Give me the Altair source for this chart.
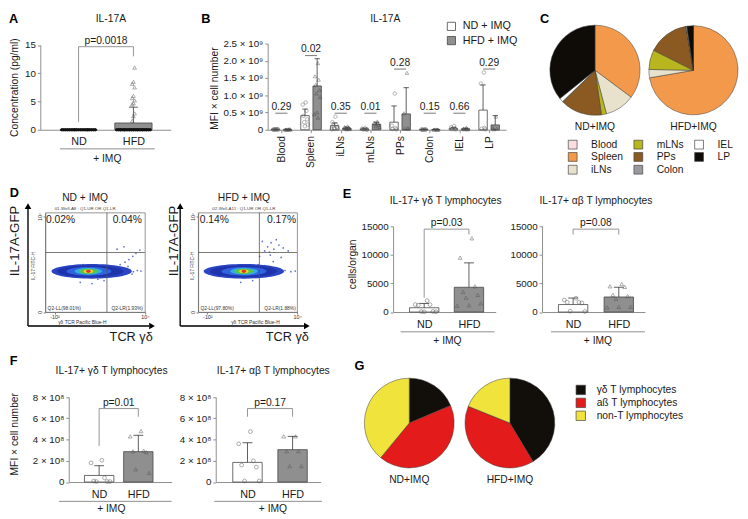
import json
import altair as alt
import pandas as pd

FONT = "Liberation Sans"
INK = "#1a1a1a"
AXC = "#8c8c8c"
ONE = pd.DataFrame({"k": [0]})
GROUPS = ["ND", "HFD"]

# ---------------- A : serum IL-17A ----------------
A_ND = [0, 0, 0, 0, 0, 0, 0, 0, 0, 0, 0, 0, 0, 0, 0, 0, 0, 0, 0, 0,
        0, 0, 0, 0, 0, 0, 0, 0, 0, 0, 0, 0, 0, 0, 0, 0, 0, 0, 0, 0]
A_HFD = [11.0, 8.5, 8.1, 7.5, 6.0, 5.6, 5.2, 4.7, 4.5, 2.9, 2.4, 1.6,
         0, 0, 0, 0, 0, 0, 0, 0, 0, 0, 0, 0, 0, 0, 0, 0, 0, 0, 0, 0, 0, 0, 0,
         0, 0, 0, 0, 0, 0, 0, 0, 0, 0, 0, 0, 0, 0, 0, 0, 0, 0, 0, 0, 0, 0]
A_MEAN = [0.0, 1.2]
A_UPPER = [0.0, 4.0]
A_BRACKET = [1.4, 13.0, 14.7]
A_TICKS = [0, 5, 10, 15]

# ---------------- B : MFI x cell number per organ (x 10^9) ----------------
ORGANS = ["Blood", "Spleen", "iLNs", "mLNs", "PPs", "Colon", "IEL", "LP"]
B_LEG = ["ND + IMQ", "HFD + IMQ"]
B_ND_MEAN = [0.01, 0.41, 0.12, 0.02, 0.22, 0.01, 0.04, 0.57]
B_ND_UPPER = [0.02, 0.60, 0.20, 0.03, 0.69, 0.02, 0.07, 1.30]
B_HFD_MEAN = [0.01, 1.27, 0.05, 0.16, 0.46, 0.01, 0.03, 0.14]
B_HFD_UPPER = [0.02, 2.06, 0.08, 0.22, 1.22, 0.02, 0.05, 0.41]
B_BRACKET = [0.48, 2.15, 0.48, 0.48, 1.76, 0.48, 0.48, 1.76]
B_P = ["0.29", "0.02", "0.35", "0.01", "0.28", "0.15", "0.66", "0.29"]
B_ND_PTS = {
    "Blood": [0.01, 0.005, 0.01, 0.0, 0.02, 0.01, 0.0, 0.01],
    "Spleen": [0.79, 0.73, 0.55, 0.40, 0.30, 0.22, 0.15, 0.10],
    "iLNs": [0.38, 0.22, 0.15, 0.12, 0.08, 0.05, 0.03, 0.02, 0.01],
    "mLNs": [0.04, 0.03, 0.02, 0.02, 0.01, 0.01, 0.0],
    "PPs": [1.05, 0.12, 0.05, 0.02, 0.01],
    "Colon": [0.01, 0.01, 0.0, 0.0, 0.01, 0.0],
    "IEL": [0.11, 0.07, 0.04, 0.02, 0.01],
    "LP": [1.66, 1.34, 0.05, 0.03, 0.01],
}
B_HFD_PTS = {
    "Blood": [0.01, 0.005, 0.01, 0.0, 0.02, 0.01, 0.0],
    "Spleen": [1.93, 1.55, 1.45, 1.30, 1.15, 1.05, 0.95, 0.50, 0.45, 0.35],
    "iLNs": [0.10, 0.08, 0.06, 0.05, 0.04, 0.03, 0.02, 0.01],
    "mLNs": [0.24, 0.21, 0.19, 0.17, 0.13, 0.10, 0.08],
    "PPs": [1.65, 0.48, 0.05, 0.03, 0.02],
    "Colon": [0.01, 0.0, 0.0, 0.01, 0.0],
    "IEL": [0.06, 0.03, 0.02, 0.01, 0.01],
    "LP": [0.38, 0.05, 0.03, 0.01],
}

# ---------------- C : organ share pies ----------------
C_ND = [0.0, 35.2, 10.7, 1.8, 14.9, 0.2, 1.4, 35.8]
C_HFD = [0.0, 72.3, 3.0, 7.1, 14.9, 0.0, 0.3, 2.4]
ORG_COLOR = {"Blood": "#f9dde1", "Spleen": "#f2994b", "iLNs": "#e8e1cc", "mLNs": "#b9b51f",
             "PPs": "#8a5a22", "Colon": "#9a9a9e", "IEL": "#ffffff", "LP": "#0f0c08"}

# ---------------- D : flow cytometry ----------------
FLOW_LV = [1, 2, 3, 4, 5, 6, 7]
D_ND_BLOB_X = [390, 354, 318, 305, 305, 305, 305]
D_ND_BLOB_Y = [953, 953, 960, 953, 953, 953, 953]
D_HFD_BLOB_X = [381, 370, 381, 381, 381, 381, 381]
D_HFD_BLOB_Y = [953, 953, 960, 953, 953, 953, 953]
D_ND_DOTS_X = [1400, 1800, 2200, 2600, 3000, 3500, 4200, 5200, 6500, 8000, 1600, 2400, 3200, 4000,
               5000, 6000, 7500, 2000, 3000, 150, 400, 600, 900, 1100, -60, -90, -30, 200, 500, 800,
               1200, 1500, 2800, 3800, 4800, 700, 300, -20, 100, 2300]
D_ND_DOTS_Y = [700, 1200, 800, 1500, 1000, 700, 1300, 900, 1100, 1000, 2000, 3000, 4500, 7000,
               12000, 20000, 35000, 40000, 60000, 150, 120, 250, 200, 400, 900, 1000, 700, 3000, 2500, 1800,
               1600, 500, 600, 2200, 600, 1700, 2200, 1300, 500, 1900]
D_HFD_DOTS_X = [1500, 1800, 2200, 2600, 3000, 3500, 1300, 4500, 2000, 6000, 2000, 2800, 3600, 5000,
                7000, 9000, 1500, 2500, 4000, -80, -100, -50, 300, 700, 1000, 200,
                1200, 1700, 2400, 3200, 900, 600, -20, 100, 1100, 2100]
D_HFD_DOTS_Y = [30000, 60000, 120000, 40000, 200000, 80000, 150000, 50000, 25000, 30000, 900, 1300,
                800, 1100, 900, 1000, 2500, 5000, 10000, 900, 1000, 800, 150, 200, 3000, 2000,
                1500, 500, 1800, 700, 2000, 1700, 1300, 500, 12000, 15000]
GATE_X = 1080
GATE_Y = 23000

# ---------------- E : cells / organ ----------------
E_GD_ND = [2000, 1300, 1300, 1200, 100, 80, 50, 30]
E_GD_HFD = [12900, 9500, 4500, 3500, 3000, 2500, 1500, 1200, 1100]
E_GD_MEAN = [750, 4330]
E_GD_UPPER = [1500, 8600]
E_GD_BRACKET = [2500, 13550, 14500]
E_AB_ND = [2400, 2100, 1700, 1700, 1600, 150, 100]
E_AB_HFD = [4900, 4500, 4400, 3000, 2800, 2300, 900, 900, 800]
E_AB_MEAN = [1310, 2630]
E_AB_UPPER = [2450, 4330]
E_AB_BRACKET = [13550, 13550, 14500]
E_TICKS = [0, 5000, 10000, 15000]

# ---------------- F : MFI x cell number (x 10^8) ----------------
F_GD_ND = [2.05, 1.8, 0.4, 0.1, 0.05, 0.05, 0.05]
F_GD_HFD = [4.8, 4.3, 2.95, 2.9, 2.8, 1.2, 0.85]
F_GD_MEAN = [0.62, 2.86]
F_GD_UPPER = [1.54, 4.4]
F_GD_BRACKET = [3.4, 6.15, 6.92]
F_AB_ND = [4.75, 3.6, 2.0, 1.6, 1.4, 0.1, 0.1]
F_AB_HFD = [4.3, 4.3, 2.9, 2.9, 1.5, 1.5]
F_AB_MEAN = [1.85, 3.05]
F_AB_UPPER = [3.7, 4.3]
F_AB_BRACKET = [6.15, 6.15, 6.92]
F_TICKS = [0, 2, 4, 6, 8]

# ---------------- G : lymphocyte share pies ----------------
G_CATS = ["\u03b3\u03b4 T lymphocytes", "a\u00df T lymphocytes", "non-T lymphocytes"]
G_ND = [18.6, 42.4, 39.0]
G_HFD = [41.4, 39.7, 18.9]
G_COLORS = ["#120f0a", "#e31b1b", "#efe33c"]


# ================= helpers =================
def txt(s, x, y, size=10.5, align="center", baseline="middle", angle=None, bold=False, color=INK):
    kw = dict(text=s, fontSize=size, align=align, baseline=baseline, font=FONT, color=color)
    if angle is not None:
        kw["angle"] = angle
    if bold:
        kw["fontWeight"] = "bold"
    return alt.Chart(ONE).mark_text(**kw).encode(x=alt.value(x), y=alt.value(y))


def letter(s, x, y):
    return txt(s, x, y, size=13, align="left", baseline="top", bold=True, color="#000")


def hline(x1, x2, y, color=AXC, w=1.0):
    return alt.Chart(ONE).mark_rule(color=color, strokeWidth=w).encode(
        x=alt.value(x1), x2=alt.value(x2), y=alt.value(y))


def vline(x, y1, y2, color=AXC, w=1.0):
    return alt.Chart(ONE).mark_rule(color=color, strokeWidth=w).encode(
        x=alt.value(x), y=alt.value(y1), y2=alt.value(y2))


def head(shape, x, y, size=45):
    return alt.Chart(ONE).mark_point(shape=shape, filled=True, size=size, color="#000", opacity=1).encode(
        x=alt.value(x), y=alt.value(y))


def spacer(w):
    return alt.Chart(ONE).mark_point(opacity=0).encode(
        x=alt.X("k:Q", axis=None), y=alt.Y("k:Q", axis=None)).properties(width=w, height=1)


def dot_panel(nd, hfd, mean, upper, bracket, ptxt, axis_len, nd_px, hfd_px, height, ydom, yrange, yticks,
              bar_px=30, cap_px=10, yfmt=None, ylabel_expr=None, ytitle=None, ytitle_xy=(0, 0),
              spread_px=12, lab_pad=7, zero_black=False, extras=()):
    unit = hfd_px - nd_px
    lo = -nd_px / unit
    hi = (axis_len - nd_px) / unit
    hw = bar_px / 2 / unit
    cw = cap_px / 2 / unit
    sp = spread_px / unit
    XS = alt.Scale(domain=[lo, hi], nice=False, zero=False)
    YS = alt.Scale(domain=ydom, range=yrange, nice=False, zero=False)
    xax = alt.Axis(values=[0, 1], labelExpr="datum.value < 0.5 ? 'ND' : 'HFD'", ticks=False,
                   labelPadding=lab_pad, labelFontSize=11, title=None, labelAngle=0)
    ya = dict(values=yticks, tickSize=3, labelPadding=2, labelFontSize=10)
    if yfmt:
        ya["format"] = yfmt
    if ylabel_expr:
        ya["labelExpr"] = ylabel_expr
    if ytitle:
        ya.update(title=ytitle, titleX=ytitle_xy[0], titleY=ytitle_xy[1], titleAngle=270,
                  titleAlign="center", titleBaseline="middle", titleFontSize=10.5)
    else:
        ya["title"] = None
    yax = alt.Axis(**ya)

    def X(f):
        return alt.X(f, type="quantitative", scale=XS, axis=xax)

    def Y(f):
        return alt.Y(f, type="quantitative", scale=YS, axis=yax)

    gi = "datum.g == 'ND' ? 0 : 1"
    bdf = pd.DataFrame({"g": GROUPS, "m": mean, "u": upper})
    bb = (alt.Chart(bdf).transform_calculate(gi=gi)
          .transform_calculate(xl=f"datum.gi - {hw}", xr=f"datum.gi + {hw}",
                               cl=f"datum.gi - {cw}", cr=f"datum.gi + {cw}", z="0"))
    bars = bb.mark_rect(stroke="#454545", strokeWidth=0.8).encode(
        x=X("xl"), x2=alt.X2("xr"), y=Y("m"), y2=alt.Y2("z"),
        fill=alt.condition("datum.g == 'ND'", alt.value("white"), alt.value("#8f8f8f")))
    err = bb.mark_rule(color="#333", strokeWidth=0.8).encode(x=X("gi"), y=Y("m"), y2=alt.Y2("u"))
    capm = bb.mark_rule(color="#333", strokeWidth=0.8).encode(x=X("cl"), x2=alt.X2("cr"), y=Y("u"))

    pdf = pd.DataFrame({"g": ["ND"] * len(nd) + ["HFD"] * len(hfd), "v": list(nd) + list(hfd)})
    pb = (alt.Chart(pdf).transform_calculate(gi=gi, zz="datum.v > 0 ? 0 : 1")
          .transform_window(r="row_number()", groupby=["g", "zz"]))
    layers = [bars, err, capm]
    if zero_black:
        zl = (pb.transform_filter("datum.v == 0")
              .transform_calculate(jx=f"datum.gi + ((datum.r * 7) % 19 - 9) / 9 * {sp}")
              .mark_circle(size=10, color="#111", opacity=1).encode(x=X("jx"), y=Y("v")))
        tl = (pb.transform_filter("datum.v > 0")
              .transform_calculate(jx=f"datum.gi + ((datum.r * 5) % 3 - 1) * {1.2 / unit}")
              .mark_point(shape="triangle-up", filled=False, size=14, strokeWidth=0.7, color="#555")
              .encode(x=X("jx"), y=Y("v")))
        layers += [zl, tl]
    else:
        pj = pb.transform_calculate(jx=f"datum.gi + ((datum.r * 5) % 9 - 4) / 4 * {sp}")
        ndl = pj.transform_filter("datum.g == 'ND'").mark_point(
            shape="circle", filled=False, size=15, strokeWidth=0.7, color="#555").encode(x=X("jx"), y=Y("v"))
        hfl = pj.transform_filter("datum.g == 'HFD'").mark_point(
            shape="triangle-up", filled=False, size=15, strokeWidth=0.7, color="#555").encode(x=X("jx"), y=Y("v"))
        layers += [ndl, hfl]

    bn, bh, top = bracket
    brdf = pd.DataFrame({"x": [0, 1, 0], "x2": [0, 1, 1], "y": [bn, bh, top], "y2": [top, top, top]})
    brk = alt.Chart(brdf).mark_rule(color="#7a7a7a", strokeWidth=0.8).encode(
        x=X("x"), x2=alt.X2("x2"), y=Y("y"), y2=alt.Y2("y2"))
    ptdf = pd.DataFrame({"x": [0.5], "y": [top], "t": [ptxt]})
    pt = alt.Chart(ptdf).mark_text(fontSize=10.5, baseline="alphabetic", dy=-3, font=FONT, color=INK).encode(
        x=X("x"), y=Y("y"), text="t:N")
    layers += [brk, pt]
    layers += list(extras)
    return alt.layer(*layers).properties(width=axis_len, height=height)


def panel_b():
    org_js = json.dumps(ORGANS)
    off, hw, cw, sp = 0.205, 0.142, 0.09, 0.1
    XS = alt.Scale(domain=[-0.462, 7.571], nice=False, zero=False)
    YS = alt.Scale(domain=[0, 2.5], range=[88, 0], nice=False, zero=False)
    xax = alt.Axis(values=list(range(8)), labelExpr=f"{org_js}[datum.value]", labelAngle=270,
                   labelAlign="right", labelBaseline="middle", tickSize=3, labelPadding=3,
                   labelFontSize=10.5, title=None)
    yax = alt.Axis(values=[0, 0.5, 1, 1.5, 2, 2.5],
                   labelExpr="datum.value == 0 ? '0' : format(datum.value, '.1f') + ' \u00d7 10\u2079'",
                   tickSize=3, labelPadding=2, labelFontSize=10, title="MFI \u00d7 cell number",
                   titleX=-54.7, titleY=45.5, titleAngle=270, titleAlign="center",
                   titleBaseline="middle", titleFontSize=10.5)

    def X(f):
        return alt.X(f, type="quantitative", scale=XS, axis=xax)

    def Y(f):
        return alt.Y(f, type="quantitative", scale=YS, axis=yax)

    oi = f"indexof({org_js}, datum.organ)"
    sd = f"datum.g == '{B_LEG[0]}' ? -{off} : {off}"
    bdf = pd.DataFrame({"organ": ORGANS * 2, "g": [B_LEG[0]] * 8 + [B_LEG[1]] * 8,
                        "m": B_ND_MEAN + B_HFD_MEAN, "u": B_ND_UPPER + B_HFD_UPPER})
    bb = (alt.Chart(bdf).transform_calculate(oi=oi, sd=sd)
          .transform_calculate(gx="datum.oi + datum.sd")
          .transform_calculate(xl=f"datum.gx - {hw}", xr=f"datum.gx + {hw}",
                               cl=f"datum.gx - {cw}", cr=f"datum.gx + {cw}", z="0"))
    bars = bb.mark_rect(stroke="#454545", strokeWidth=0.8).encode(
        x=X("xl"), x2=alt.X2("xr"), y=Y("m"), y2=alt.Y2("z"),
        fill=alt.Fill("g:N", scale=alt.Scale(domain=B_LEG, range=["white", "#8f8f8f"]),
                      legend=alt.Legend(title=None, orient="none", legendX=182, legendY=-23,
                                        symbolType="square", symbolSize=70, symbolStrokeColor="#454545",
                                        symbolStrokeWidth=0.8, labelFontSize=11, labelOffset=6,
                                        rowPadding=1.5, padding=0, labelColor=INK, labelFont=FONT)))
    err = bb.mark_rule(color="#333", strokeWidth=0.8).encode(x=X("gx"), y=Y("m"), y2=alt.Y2("u"))
    capm = bb.mark_rule(color="#333", strokeWidth=0.8).encode(x=X("cl"), x2=alt.X2("cr"), y=Y("u"))

    rows_o, rows_g, rows_v = [], [], []
    for g, d in ((B_LEG[0], B_ND_PTS), (B_LEG[1], B_HFD_PTS)):
        for o in ORGANS:
            for v in d[o]:
                rows_o.append(o)
                rows_g.append(g)
                rows_v.append(v)
    pdf = pd.DataFrame({"organ": rows_o, "g": rows_g, "v": rows_v})
    pb = (alt.Chart(pdf).transform_calculate(oi=oi, sd=sd)
          .transform_calculate(gx="datum.oi + datum.sd")
          .transform_window(r="row_number()", groupby=["organ", "g"])
          .transform_calculate(jx=f"datum.gx + ((datum.r * 5) % 9 - 4) / 4 * {sp}"))
    ndl = pb.transform_filter(f"datum.g == '{B_LEG[0]}'").mark_point(
        shape="circle", filled=False, size=13, strokeWidth=0.6, color="#555").encode(x=X("jx"), y=Y("v"))
    hfl = pb.transform_filter(f"datum.g == '{B_LEG[1]}'").mark_point(
        shape="triangle-up", filled=False, size=13, strokeWidth=0.6, color="#444").encode(x=X("jx"), y=Y("v"))

    brdf = pd.DataFrame({"organ": ORGANS, "y": B_BRACKET, "p": B_P})
    brb = alt.Chart(brdf).transform_calculate(oi=oi).transform_calculate(
        xl=f"datum.oi - {off}", xr=f"datum.oi + {off}")
    brk = brb.mark_rule(color="#555", strokeWidth=0.8).encode(x=X("xl"), x2=alt.X2("xr"), y=Y("y"))
    pt = brb.mark_text(fontSize=10.5, baseline="alphabetic", dy=-3.5, font=FONT, color=INK).encode(
        x=X("oi"), y=Y("y"), text="p:N")
    return alt.layer(bars, err, capm, ndl, hfl, brk, pt,
                     letter("B", -67.7, -30.5), txt("IL-17A", 120, -24.5)).properties(width=243.3, height=88)


def pie(cats, values, cx, cy, r, fill):
    df = pd.DataFrame({"cat": cats, "share": values})
    return (alt.Chart(df).transform_calculate(k=f"indexof({json.dumps(cats)}, datum.cat)")
            .mark_arc(radius=r, stroke="#3a3a3a", strokeWidth=0.5)
            .encode(theta=alt.Theta("share:Q", stack="normalize"), order=alt.Order("k:Q"),
                    fill=fill, x=alt.value(cx), y=alt.value(cy)))


def panel_c():
    # legend grid fills column by column, so the natural organ order gives the reference layout
    fill = alt.Fill("cat:N", scale=alt.Scale(domain=ORGANS, range=[ORG_COLOR[c] for c in ORGANS]),
                    legend=alt.Legend(title=None, orient="none", legendX=62, legendY=97.5, columns=3,
                                      symbolType="square", symbolSize=81, symbolStrokeColor="#454545",
                                      symbolStrokeWidth=0.7, labelFontSize=10.5, labelOffset=13.5,
                                      columnPadding=9, rowPadding=0, padding=0, labelColor=INK,
                                      labelFont=FONT))
    return alt.layer(pie(ORGANS, C_ND, 90, 27.3, 46, fill), pie(ORGANS, C_HFD, 190.5, 27.3, 45.5, fill),
                     txt("ND+IMQ", 90, 85.5), txt("HFD+IMQ", 190.5, 85.5),
                     letter("C", 34, -30.5)).properties(width=225, height=88)


# row 3 panels start at y = 383.5 (reference pixels)
def panel_g():
    fill = alt.Fill("cat:N", scale=alt.Scale(domain=G_CATS, range=G_COLORS),
                    legend=alt.Legend(title=None, orient="none", legendX=260, legendY=3,
                                      symbolType="square", symbolSize=92, symbolStrokeColor="#454545",
                                      symbolStrokeWidth=0.7, labelFontSize=10.5, labelOffset=10.7,
                                      rowPadding=0.2, padding=0, labelColor=INK, labelFont=FONT))
    return alt.layer(pie(G_CATS, G_ND, 90.5, 42.3, 45.8, fill), pie(G_CATS, G_HFD, 193.2, 42.3, 45.8, fill),
                     txt("ND+IMQ", 90.5, 100.5), txt("HFD+IMQ", 193.2, 100.5),
                     letter("G", 34.7, -21.8)).properties(width=400, height=102.5)


FLOW_W = [82, 68, 46, 28, 19, 10, 5]
FLOW_H = [15, 12, 9, 6.8, 5.4, 4, 3.2]
FLOW_COLORS = ["#2a44c4", "#1f33aa", "#2f63df", "#33b0dc", "#5bc448", "#e8dc2a", "#e2362a"]


def ellipse(r):
    return f"M-1,0A1,{r:.3f},0,1,0,1,0A1,{r:.3f},0,1,0,-1,0Z"


def flow_panel(w, bx, by, dx, dy, title, header, ul, ur, ll, lr, ul_x, ur_x, pos):
    XS = alt.Scale(type="symlog", constant=117, domain=[-250, 10000], nice=False, zero=False)
    YS = alt.Scale(type="symlog", constant=1, domain=[0, 1.94e7], nice=False, zero=False)
    xax = alt.Axis(values=[-100, 0, 1000, 10000],
                   labelExpr="datum.value == 0 ? '0' : datum.value < 0 ? '-10\u00b2' : datum.value < 5000 ? '10\u00b3' : '10\u2074'",
                   labelFontSize=5.5, tickSize=2, labelPadding=1, labelColor="#333", domainColor="#777",
                   tickColor="#777", title="\u03b3\u03b4 TCR Pacific Blue-H", titleFontSize=5,
                   titleX=pos["xtx"], titleY=9.8, titleAlign="center", titleBaseline="middle",
                   titleColor="#333")
    yax = alt.Axis(values=[0, 10, 100, 1000, 10000, 100000, 1000000, 10000000],
                   labelExpr="datum.value == 0 ? '0' : '10' + ['', '\u00b9', '\u00b2', '\u00b3', '\u2074', '\u2075', '\u2076', '\u2077'][round(log(datum.value) / LN10)]",
                   labelAngle=270, labelAlign="center", labelBaseline="bottom", labelFontSize=5.5,
                   tickSize=2, labelPadding=1, labelColor="#333", domainColor="#777", tickColor="#777",
                   title="IL-17 FITC-H", titleFontSize=5, titleX=pos["ytx"], titleY=54, titleAngle=270,
                   titleAlign="center", titleBaseline="middle", titleColor="#333")
    X = alt.X("x:Q", scale=XS, axis=xax)
    Y = alt.Y("y:Q", scale=YS, axis=yax)
    blob = alt.Chart(pd.DataFrame({"x": bx, "y": by, "lvl": FLOW_LV})).mark_point(
        filled=True, opacity=1, strokeWidth=0).encode(
        x=X, y=Y,
        size=alt.Size("lvl:N", scale=alt.Scale(type="ordinal", domain=FLOW_LV, range=[v * v for v in FLOW_W]), legend=None),
        shape=alt.Shape("lvl:N", scale=alt.Scale(domain=FLOW_LV, range=[ellipse(h / v) for h, v in zip(FLOW_H, FLOW_W)]), legend=None),
        fill=alt.Fill("lvl:N", scale=alt.Scale(domain=FLOW_LV, range=FLOW_COLORS), legend=None))
    dots = alt.Chart(pd.DataFrame({"x": dx, "y": dy})).mark_circle(size=3, color="#3b57c8", opacity=0.85).encode(x=X, y=Y)
    gx = alt.Chart(ONE).mark_rule(color="#555", strokeWidth=0.8).encode(x=alt.datum(GATE_X))
    gy = alt.Chart(ONE).mark_rule(color="#555", strokeWidth=0.8).encode(y=alt.datum(GATE_Y))
    ax_x = pos["ax"]
    layers = [dots, blob, gx, gy,
              txt(title, pos["tx"], -15, size=10.5),
              txt(header, pos["tx"], -3.5, size=4.5, color="#444"),
              txt(ul, ul_x, 8, size=10.5, align="left"),
              txt(ur, ur_x, 8, size=10.5, align="right"),
              txt(ll, 2.4, 97.3, size=5, align="left", color="#333"),
              txt(lr, 99.7, 97.3, size=5, align="right", color="#333"),
              vline(ax_x, 115.7, -5, color="#000", w=1.4),
              hline(ax_x, pos["arx"] - 3, 115.7, color="#000", w=1.4),
              head("triangle-up", ax_x, -6.5),
              head("triangle-right", pos["arx"], 115.7),
              txt("TCR \u03b3\u03b4", pos["tcr"], 127.5, size=13, align="right"),
              txt("IL-17A-GFP", pos["gfp"], 29, size=13.5, angle=270)]
    layers += pos.get("extra", [])
    return alt.layer(*layers).properties(width=w, height=101.5,
                                          view=alt.ViewBackground(stroke="#777", strokeWidth=0.8))


# ================= panels =================
pA = dot_panel(A_ND, A_HFD, A_MEAN, A_UPPER, A_BRACKET, "p=0.0018", 133, 39, 95, 88, [0, 15], [88, 1.5],
               A_TICKS, bar_px=38, cap_px=9, ytitle="Concentration (pg/ml)", ytitle_xy=(-26, 44.5),
               spread_px=17, lab_pad=6, zero_black=True,
               extras=[letter("A", -32, -30.5), txt("IL-17A", 72, -24.5),
                       hline(20, 116.7, 107.5), txt("+ IMQ", 68.3, 118.2)])
pB = panel_b()
pC = panel_c()

pDl = flow_panel(101.7, D_ND_BLOB_X, D_ND_BLOB_Y, D_ND_DOTS_X, D_ND_DOTS_Y, "ND + IMQ",
                 "01-Well-A8 : Q1-UR OR Q1-LR", "0.02%", "0.04%", "Q2-LL(98.01%)", "Q2-LR(1.93%)", 0.8, 98.5,
                 dict(xtx=37.4, ytx=-13, tx=40.7, ax=-17.6, arx=109, tcr=109.7, gfp=-30.3,
                      extra=[letter("D", -36.3, -26)]))
pDr = flow_panel(101, D_HFD_BLOB_X, D_HFD_BLOB_Y, D_HFD_DOTS_X, D_HFD_DOTS_Y, "HFD + IMQ",
                 "02-Well-A11 : Q1-UR OR Q1-LR", "0.14%", "0.17%", "Q2-LL(97.80%)", "Q2-LR(1.88%)", 1.7, 100,
                 dict(xtx=58, ytx=-7, tx=46.7, ax=-18.3, arx=111, tcr=113, gfp=-25))

pEl = dot_panel(E_GD_ND, E_GD_HFD, E_GD_MEAN, E_GD_UPPER, E_GD_BRACKET, "p=0.03", 104.7, 31.7, 77.4, 101.5,
                [0, 15000], [101.5, 14], E_TICKS, yfmt="d", ytitle="cells/organ", ytitle_xy=(-41.3, 52.3),
                extras=[letter("E", -51.3, -25.3), txt("IL-17+ \u03b3\u03b4 T lymphocytes", 53.7, -12),
                        hline(7.7, 103.4, 121.7), txt("+ IMQ", 55.5, 131.5)])
pEr = dot_panel(E_AB_ND, E_AB_HFD, E_AB_MEAN, E_AB_UPPER, E_AB_BRACKET, "p=0.08", 105, 31.7, 78.3, 101.5,
                [0, 15000], [101.5, 14], E_TICKS, yfmt="d",
                extras=[txt("IL-17+ \u03b1\u03b2 T lymphocytes", 55, -12),
                        hline(9, 105, 121.7), txt("+ IMQ", 57, 131.5)])

F_LBL = "datum.value == 0 ? '0' : datum.value + ' \u00d7 10\u2078'"
pFl = dot_panel(F_GD_ND, F_GD_HFD, F_GD_MEAN, F_GD_UPPER, F_GD_BRACKET, "p=0.01", 105, 31, 71, 102.5,
                [0, 8], [102.5, 15.8], F_TICKS, ylabel_expr=F_LBL, ytitle="MFI \u00d7 cell number",
                ytitle_xy=(-55, 53.2), spread_px=11,
                extras=[letter("F", -60.3, -26.5), txt("IL-17+ \u03b3\u03b4 T lymphocytes", 43.7, -10.5),
                        hline(-10, 105, 122.2), txt("+ IMQ", 43.4, 130.5)])
pFr = dot_panel(F_AB_ND, F_AB_HFD, F_AB_MEAN, F_AB_UPPER, F_AB_BRACKET, "p=0.17", 107, 32.4, 78.4, 102.5,
                [0, 8], [102.5, 15.8], F_TICKS, ylabel_expr=F_LBL,
                extras=[txt("IL-17+ \u03b1\u03b2 T lymphocytes", 58.7, -10.5),
                        hline(-1.6, 108.4, 122.2), txt("+ IMQ", 58.4, 130.5)])
pG = panel_g()

RES = dict(fill="independent", theta="independent", size="independent", shape="independent",
           color="independent")

row1 = alt.hconcat(pA, spacer(98.7), pB, pC, spacing=0, bounds="flush").resolve_scale(**RES)
row2 = alt.hconcat(spacer(4.3), pDl, spacer(54), pDr, spacer(97.3), pEl, spacer(47), pEr,
                   spacing=0, bounds="flush").resolve_scale(**RES)
row3 = alt.hconcat(spacer(28.3), pFl, spacer(45), pFr, pG, spacing=0, bounds="flush").resolve_scale(**RES)

# nested concats count as zero height under flush bounds, so spacing = distance between row tops
chart = (alt.vconcat(row1, row2, row3, spacing=172.5, bounds="flush").resolve_scale(**RES)
         .properties(padding=0, background="white")
         .configure_view(stroke="transparent")
         .configure_axis(labelFont=FONT, titleFont=FONT, labelColor=INK, titleColor=INK, domainColor=AXC,
                         tickColor=AXC, grid=False, titleFontWeight="normal", labelFlush=False,
                         labelOverlap=False, domainWidth=1)
         .configure_legend(labelFont=FONT)
         .configure_text(font=FONT))

chart.save("out.html", embed_options={"renderer": "svg", "actions": False})
